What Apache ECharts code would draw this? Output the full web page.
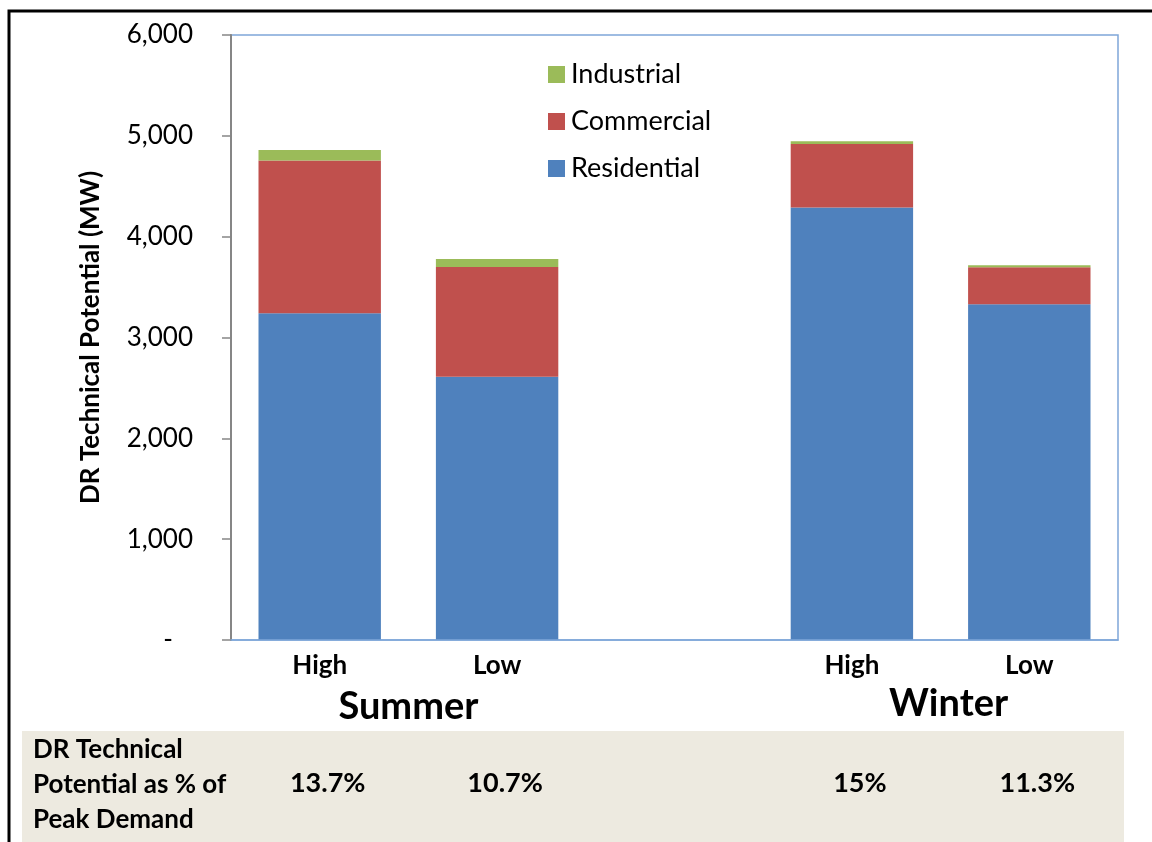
<!DOCTYPE html>
<html>
<head>
<meta charset="utf-8">
<script src="https://cdn.jsdelivr.net/npm/echarts@6/dist/echarts.min.js"></script>
<style>
  html, body { margin: 0; padding: 0; background: #fff; }
  #chart { width: 1152px; height: 842px; }
</style>
</head>
<body>
<div id="chart"></div>
<script>
// ---- data ----
const categories = ['Summer High', 'Summer Low', '', 'Winter High', 'Winter Low'];
const seasons = ['Summer', 'Winter'];
const seasonSlots = [[0, 1], [3, 4]];
const residential = [3240, 2610, null, 4290, 3330];
const commercial = [1515, 1090, null, 630, 367];
const industrial = [105, 78, null, 27, 20];
const pctOfPeak = ['13.7%', '10.7%', '', '15%', '11.3%'];
const rowLabel = 'DR Technical\nPotential as % of\nPeak Demand';
const yTicks = { min: 0, max: 6000, interval: 1000 };
const yTitle = 'DR Technical Potential (MW)';

const FONT = 'Lato, "Liberation Sans", sans-serif';
const chart = echarts.init(document.getElementById('chart'));

const option = {
  backgroundColor: '#ffffff',
  animation: false,
  textStyle: { fontFamily: FONT },
  grid: {
    left: 231, right: 34, top: 35, bottom: 202,
    show: true, borderColor: '#7FA7D9', borderWidth: 1.5, backgroundColor: 'transparent'
  },
  legend: {
    orient: 'vertical',
    left: 543, top: 56,
    itemWidth: 17, itemHeight: 17, itemGap: 20,
    icon: 'rect',
    data: ['Industrial', 'Commercial', 'Residential'],
    textStyle: { fontFamily: FONT, fontSize: 27, color: '#000', lineHeight: 27, padding: [0, 0, 0, 1] }
  },
  xAxis: [
    {
      type: 'category', data: categories, gridIndex: 0, position: 'bottom', z: 10,
      axisLine: { show: true, lineStyle: { color: '#7FA7D9', width: 1.5 } },
      axisTick: { show: false },
      axisLabel: {
        interval: 0, margin: 13, color: '#000', fontFamily: FONT, fontWeight: 'bold', fontSize: 26,
        formatter: v => (v.split(' ')[1] || '')
      }
    },
    {
      type: 'category', data: pctOfPeak, gridIndex: 0, position: 'bottom', offset: 122, z: 10,
      axisLine: { show: false }, axisTick: { show: false },
      axisLabel: {
        interval: 0, margin: 8, color: '#000', fontFamily: FONT, fontWeight: 'bold', fontSize: 27,
        padding: [0, 0, 0, 16]
      }
    }
  ],
  yAxis: {
    type: 'value', min: yTicks.min, max: yTicks.max, interval: yTicks.interval,
    name: yTitle, nameLocation: 'middle', nameGap: 127, nameRotate: 90,
    nameTextStyle: { fontFamily: FONT, fontWeight: 'bold', fontSize: 26, color: '#000' },
    axisLine: { show: true, lineStyle: { color: '#868686', width: 2 } },
    axisTick: { show: true, length: 9, lineStyle: { color: '#868686', width: 1.5 } },
    splitLine: { show: false },
    axisLabel: {
      margin: 38, color: '#000', fontFamily: FONT, fontSize: 26,
      formatter: v => v === 0 ? '-   ' : v.toLocaleString('en-US')
    }
  },
  series: [
    { name: 'Residential', type: 'bar', stack: 'total', data: residential, barWidth: '69%',
      itemStyle: { color: '#4F81BD' } },
    { name: 'Commercial', type: 'bar', stack: 'total', data: commercial, barWidth: '69%',
      itemStyle: { color: '#C0504D' } },
    { name: 'Industrial', type: 'bar', stack: 'total', data: industrial, barWidth: '69%',
      itemStyle: { color: '#9BBB59' } }
  ]
};
chart.setOption(option);

// decorations and group labels
const groupTexts = seasons.map((s, i) => {
  const a = chart.convertToPixel({ xAxisIndex: 0 }, seasonSlots[i][0]);
  const b = chart.convertToPixel({ xAxisIndex: 0 }, seasonSlots[i][1]);
  return {
    type: 'text', x: (a + b) / 2 + (i === 1 ? 8 : 0), y: i === 1 ? 704 : 707, z: 20,
    style: { text: s, font: 'bold 38px ' + FONT, fill: '#000', align: 'center', verticalAlign: 'middle' }
  };
});

chart.setOption({
  graphic: [
    { type: 'rect', z: -10, silent: true,
      shape: { x: 22, y: 731, width: 1102, height: 140 },
      style: { fill: '#EDEAE0' } },
    { type: 'rect', z: 30, silent: true,
      shape: { x: 9, y: 11, width: 1300, height: 1000 },
      style: { fill: 'none', stroke: '#000', lineWidth: 3 } },
    { type: 'text', x: 33, y: 732, z: 20,
      style: { text: rowLabel, font: 'bold 26px ' + FONT, fill: '#000', lineHeight: 35, align: 'left', verticalAlign: 'top' } },
    ...groupTexts
  ]
});
</script>
</body>
</html>
